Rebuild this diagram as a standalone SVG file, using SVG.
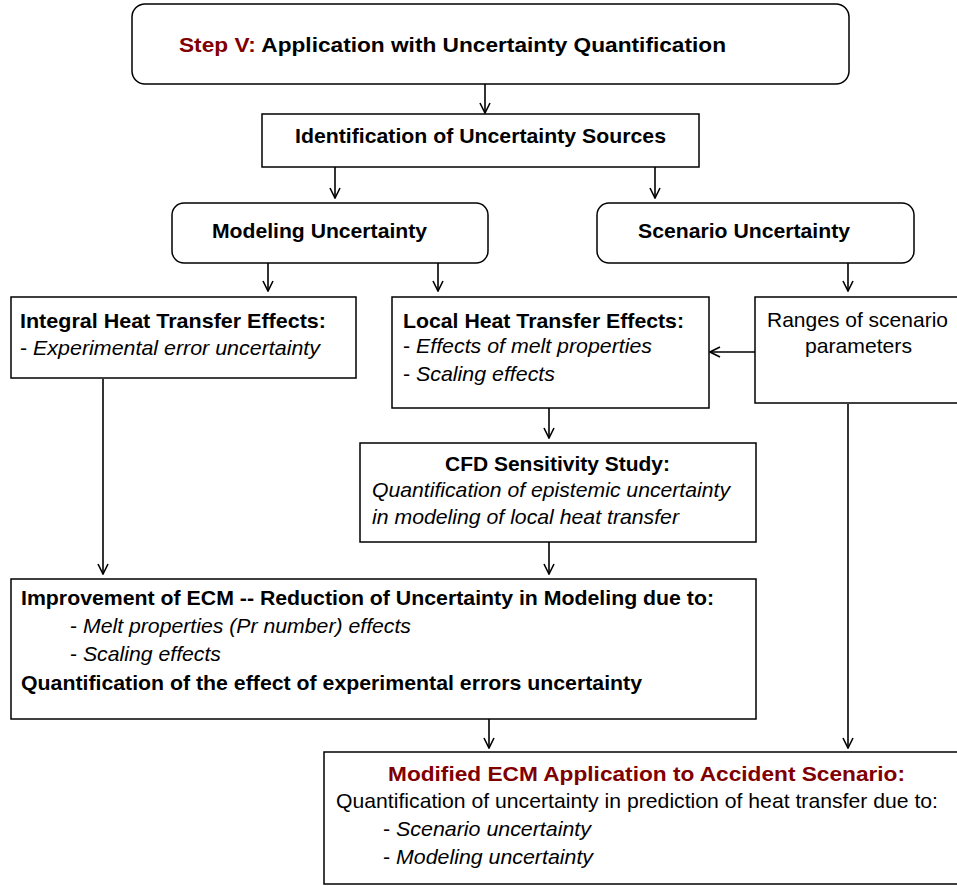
<svg xmlns="http://www.w3.org/2000/svg" width="957" height="886" viewBox="0 0 957 886">
<defs>
<marker id="arr" viewBox="0 0 12 12" refX="11" refY="6" markerWidth="12" markerHeight="12" markerUnits="userSpaceOnUse" orient="auto">
<path d="M1,1 L11,6 L1,11" fill="none" stroke="#000" stroke-width="1.6"/>
</marker>
<style>
.box{fill:#fff;stroke:#000;stroke-width:1.5}
text{font-family:"Liberation Sans",Arial,sans-serif;font-size:21px;fill:#000}
.b{font-weight:bold}
.i{font-style:italic}
.red{fill:#800000}
.c line{stroke:#000;stroke-width:1.6;fill:none}
</style>
</defs>
<rect width="957" height="886" fill="#fff"/>
<g class="c" id="connectors">
<line x1="485" y1="84" x2="485" y2="113" marker-end="url(#arr)"/>
<line x1="335" y1="167" x2="335" y2="198" marker-end="url(#arr)"/>
<line x1="655" y1="167" x2="655" y2="198" marker-end="url(#arr)"/>
<line x1="268" y1="263" x2="268" y2="291" marker-end="url(#arr)"/>
<line x1="438" y1="263" x2="438" y2="291" marker-end="url(#arr)"/>
<line x1="848" y1="263" x2="848" y2="291" marker-end="url(#arr)"/>
<line x1="755" y1="352" x2="710" y2="352" marker-end="url(#arr)"/>
<line x1="549" y1="408" x2="549" y2="438" marker-end="url(#arr)"/>
<line x1="549" y1="542" x2="549" y2="574" marker-end="url(#arr)"/>
<line x1="103" y1="379" x2="103" y2="574" marker-end="url(#arr)"/>
<line x1="489" y1="719" x2="489" y2="748" marker-end="url(#arr)"/>
<line x1="848" y1="404" x2="848" y2="748" marker-end="url(#arr)"/>
</g>
<g id="step5">
<rect class="box" x="132" y="4" width="717" height="80" rx="13"/>
<text x="179" y="52" class="b" font-size="22" textLength="547" lengthAdjust="spacingAndGlyphs"><tspan class="red">Step V:</tspan> Application with Uncertainty Quantification</text>
</g>
<g id="identification">
<rect class="box" x="262" y="114" width="437" height="53"/>
<text x="295" y="143" class="b" font-size="22" textLength="371" lengthAdjust="spacingAndGlyphs">Identification of Uncertainty Sources</text>
</g>
<g id="modeling">
<rect class="box" x="172" y="203" width="316" height="60" rx="12"/>
<text x="212" y="238" class="b" font-size="22" textLength="215" lengthAdjust="spacingAndGlyphs">Modeling Uncertainty</text>
</g>
<g id="scenario">
<rect class="box" x="597" y="203" width="317" height="60" rx="12"/>
<text x="638" y="238" class="b" font-size="22" textLength="212" lengthAdjust="spacingAndGlyphs">Scenario Uncertainty</text>
</g>
<g id="integral">
<rect class="box" x="11" y="297" width="345" height="81"/>
<text x="20" y="328" class="b" textLength="306" lengthAdjust="spacingAndGlyphs">Integral Heat Transfer Effects:</text>
<text x="20" y="355" textLength="300" lengthAdjust="spacingAndGlyphs">- <tspan class="i">Experimental error uncertainty</tspan></text>
</g>
<g id="local">
<rect class="box" x="392" y="297" width="317" height="111"/>
<text x="403" y="328" class="b" textLength="281" lengthAdjust="spacingAndGlyphs">Local Heat Transfer Effects:</text>
<text x="403" y="353" textLength="249" lengthAdjust="spacingAndGlyphs">- <tspan class="i">Effects of melt properties</tspan></text>
<text x="403" y="381" textLength="152" lengthAdjust="spacingAndGlyphs">- <tspan class="i">Scaling effects</tspan></text>
</g>
<g id="ranges">
<rect class="box" x="755" y="297" width="210" height="106"/>
<text x="767" y="327" textLength="181" lengthAdjust="spacingAndGlyphs">Ranges of scenario</text>
<text x="805" y="353" textLength="107" lengthAdjust="spacingAndGlyphs">parameters</text>
</g>
<g id="cfd">
<rect class="box" x="360" y="443" width="396" height="99"/>
<text x="445" y="471" class="b" textLength="225" lengthAdjust="spacingAndGlyphs">CFD Sensitivity Study:</text>
<text x="372" y="497" class="i" textLength="358" lengthAdjust="spacingAndGlyphs">Quantification of epistemic uncertainty</text>
<text x="372" y="524" class="i" textLength="307" lengthAdjust="spacingAndGlyphs">in modeling of local heat transfer</text>
</g>
<g id="improvement">
<rect class="box" x="11" y="579" width="745" height="140"/>
<text x="21" y="605" class="b" textLength="693" lengthAdjust="spacingAndGlyphs">Improvement of ECM -- Reduction of Uncertainty in Modeling due to:</text>
<text x="70" y="633" textLength="341" lengthAdjust="spacingAndGlyphs">- <tspan class="i">Melt properties (Pr number) effects</tspan></text>
<text x="70" y="661" textLength="151" lengthAdjust="spacingAndGlyphs">- <tspan class="i">Scaling effects</tspan></text>
<text x="21" y="690" class="b" textLength="621" lengthAdjust="spacingAndGlyphs">Quantification of the effect of experimental errors uncertainty</text>
</g>
<g id="modified">
<rect class="box" x="324" y="752" width="640" height="132"/>
<text x="388" y="781" class="b red" font-size="22" textLength="517" lengthAdjust="spacingAndGlyphs">Modified ECM Application to Accident Scenario:</text>
<text x="336" y="808" textLength="602" lengthAdjust="spacingAndGlyphs">Quantification of uncertainty in prediction of heat transfer due to:</text>
<text x="383" y="836" textLength="208" lengthAdjust="spacingAndGlyphs">- <tspan class="i">Scenario uncertainty</tspan></text>
<text x="383" y="864" textLength="210" lengthAdjust="spacingAndGlyphs">- <tspan class="i">Modeling uncertainty</tspan></text>
</g>
</svg>
